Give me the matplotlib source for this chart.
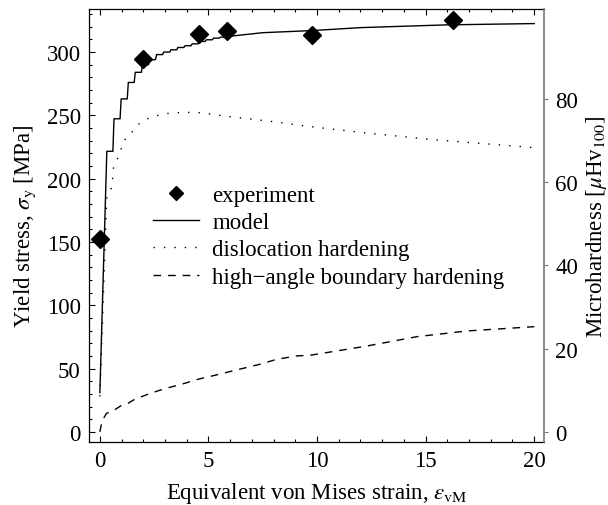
import matplotlib as mpl
import matplotlib.pyplot as plt
from matplotlib.ticker import MultipleLocator

mpl.use("Agg")

# Fonts: Times-like text and math
mpl.rcParams["font.family"] = ["Liberation Serif", "DejaVu Serif"]
mpl.rcParams["mathtext.fontset"] = "stix"
mpl.rcParams["font.size"] = 16.5

# Conversion between the two y axes (MPa per Hv unit)
HV_TO_MPA = 3.29

# Experimental points
exp_strain = [0.0, 1.97, 4.55, 5.86, 9.76, 16.25]
exp_stress = [152, 294.5, 314, 316.5, 313.5, 325]

# Model: start point, step part (level reached at each step) and smooth tail
model_start_strain = 0.0
model_start_stress = 31
model_step_strain = [0.32, 0.65, 0.98, 1.31, 1.63, 1.96, 2.29, 2.61, 2.94,
                     3.27, 3.59, 3.92, 4.25, 4.57, 4.90, 5.23, 5.55, 5.88]
model_step_stress = [221.6, 247.3, 263, 276, 284, 290, 294, 298, 300,
                     301.8, 303.6, 305, 306.5, 308.4, 309.7, 311, 311.8, 312.3]
model_tail_strain = [7.5, 9.8, 12.0, 16.0, 20.0]
model_tail_stress = [315.3, 317, 319.3, 321.5, 322.5]

# Dislocation hardening contribution
disl_strain = [0.0, 0.32, 0.55, 0.63, 0.78, 0.94, 1.06, 1.28, 1.55, 1.78, 2.07,
               2.46, 2.92, 3.33, 3.84, 4.3, 4.76, 5.22, 6.14, 8.0, 9.5, 12.3,
               15.4, 20.0]
disl_stress = [28, 186, 193, 209, 214.5, 221, 228.5, 234, 238, 243, 246.6,
               249, 251, 252, 252.3, 252.3, 252, 250.6, 248.7, 245, 241.5, 236,
               230.8, 224.5]

# High-angle boundary hardening contribution
hagb_strain = [0.0, 0.1, 0.31, 0.61, 1.0, 1.3, 1.61, 2.3, 3.0, 3.76, 4.53,
               5.3, 6.07, 7.37, 8.14, 9.06, 9.68, 12.29, 14.6, 16.9, 20.0]
hagb_stress = [0, 8.7, 14.7, 16.6, 21, 22.6, 25.8, 30.3, 34.2, 37.6, 41.6,
               44.7, 48, 53.4, 57.3, 60, 60.5, 67.8, 75.2, 79.7, 83.1]

hv_ticks = [0, 20, 40, 60, 80]


def staircase(x0, y0, xs, ys, rise=0.05):
    # build a polyline with short, slightly slanted rises at each step
    px, py = [x0], [y0]
    prev = y0
    for i, (x, y) in enumerate(zip(xs, ys)):
        if i > 0:
            px.append(x - rise)
            py.append(prev)
        px.append(x)
        py.append(y)
        prev = y
    return px, py


fig = plt.figure(figsize=(6.08, 5.06), dpi=100)
ax = fig.add_axes([0.1464, 0.1245, 0.7483, 0.8557])

mx, my = staircase(model_start_strain, model_start_stress,
                   model_step_strain, model_step_stress)
mx += model_tail_strain
my += model_tail_stress

ax.plot(exp_strain, exp_stress, linestyle="none", marker="D", ms=9,
        color="black", label="experiment", zorder=5)
ax.plot(mx, my, color="black", lw=1.0, label="model")
ax.plot(disl_strain, disl_stress, color="black", lw=1.0,
        linestyle=(0, (1, 6.5)), label="dislocation hardening")
ax.plot(hagb_strain, hagb_stress, color="black", lw=1.0,
        linestyle=(0, (5.5, 5)), label="high\u2212angle boundary hardening")

ax.set_xlim(-0.5, 20.45)
ax.set_ylim(-8, 334)
ax.xaxis.set_major_locator(MultipleLocator(5))
ax.xaxis.set_minor_locator(MultipleLocator(1))
ax.yaxis.set_major_locator(MultipleLocator(50))
ax.yaxis.set_minor_locator(MultipleLocator(10))
ax.tick_params(which="both", direction="in", top=True, right=False,
               width=0.8, pad=6)
ax.tick_params(which="major", length=4.5)
ax.tick_params(which="minor", length=2.5)
ax.spines["right"].set_visible(False)
for s in ["left", "top", "bottom"]:
    ax.spines[s].set_linewidth(0.9)

ax.set_xlabel(r"Equivalent von Mises strain, $\varepsilon_\mathrm{vM}$",
              labelpad=6)
ax.set_ylabel(r"Yield stress, $\sigma_\mathrm{y}$ [MPa]", labelpad=6)

# Right axis: microhardness
ax2 = ax.twinx()
lo, hi = ax.get_ylim()
ax2.set_ylim(lo / HV_TO_MPA, hi / HV_TO_MPA)
ax2.set_yticks(hv_ticks)
ax2.tick_params(axis="y", direction="out", length=3, width=0.8, pad=5,
                color="#777777")
for s in ["left", "top", "bottom"]:
    ax2.spines[s].set_visible(False)
ax2.spines["right"].set_color("#777777")
ax2.spines["right"].set_linewidth(1.2)
ax2.set_ylabel(r"Microhardness [$\mu$Hv$_{100}$]", labelpad=4)

ax.legend(loc="upper left", bbox_to_anchor=(0.14, 0.594), frameon=False,
          borderaxespad=0, borderpad=0, handlelength=2.0, handletextpad=0.6,
          labelspacing=0.27, numpoints=1, markerscale=0.78)

fig.savefig("out.png", dpi=100)
